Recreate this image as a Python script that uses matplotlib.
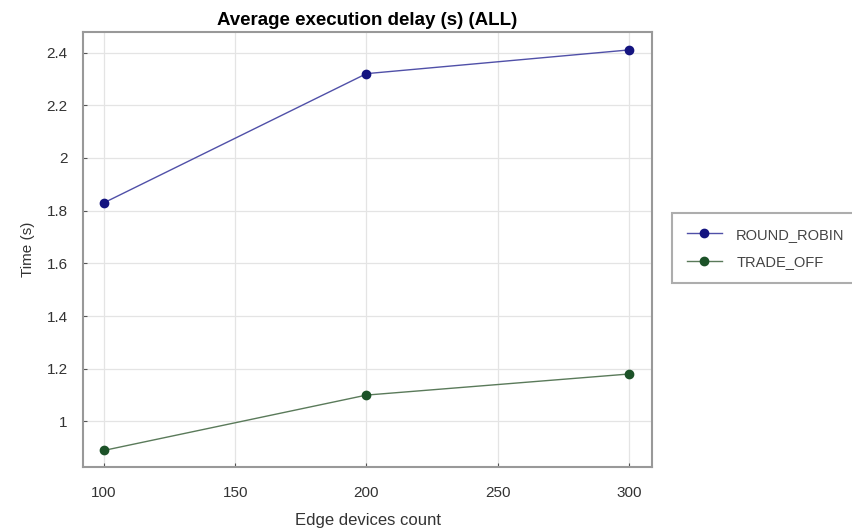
import matplotlib.pyplot as plt

plt.rcParams['font.family'] = ['Liberation Sans', 'DejaVu Sans']

devices = [100, 200, 300]
round_robin = [1.83, 2.32, 2.41]
trade_off = [0.89, 1.10, 1.18]

fig = plt.figure(figsize=(8.53, 5.31), dpi=100)
ax = fig.add_axes([0.0973, 0.1205, 0.6671, 0.8192])

ax.plot(devices, round_robin, '-o', color='#5050a8', lw=1.0,
        markerfacecolor='#141480', markeredgecolor='#141480', markersize=6,
        label='ROUND_ROBIN')
ax.plot(devices, trade_off, '-o', color='#5a7a5a', lw=1.0,
        markerfacecolor='#1c5228', markeredgecolor='#1c5228', markersize=6,
        label='TRADE_OFF')

ax.set_xlim(92, 308.8)
ax.set_ylim(0.827, 2.478)
ax.set_xticks([100, 150, 200, 250, 300])
ax.set_yticks([1, 1.2, 1.4, 1.6, 1.8, 2, 2.2, 2.4])
ax.set_yticklabels(['1', '1.2', '1.4', '1.6', '1.8', '2', '2.2', '2.4'])
ax.tick_params(direction='in', length=3, labelsize=11, colors='#555555',
               labelcolor='#333333')
ax.tick_params(axis='x', pad=14)
ax.tick_params(axis='y', pad=11)
ax.grid(True, color='#e4e4e4', lw=0.9)
ax.set_axisbelow(True)
for s in ax.spines.values():
    s.set_color('#999999')
    s.set_linewidth(1.5)

ax.set_title('Average execution delay (s) (ALL)', fontsize=13.5,
             fontweight='bold', pad=5)
ax.set_xlabel('Edge devices count', fontsize=12, color='#333333', labelpad=9)
ax.set_ylabel('Time (s)', fontsize=11, color='#333333', labelpad=8)

leg = fig.legend(loc='upper left', bbox_to_anchor=(672 / 853, 1 - 213 / 531),
                 frameon=True, fancybox=False, fontsize=10.5, edgecolor='#999999',
                 borderpad=1.0, labelspacing=0.9, handlelength=2.4,
                 handletextpad=1.0, borderaxespad=0)
leg.get_frame().set_linewidth(1.5)
for t in leg.get_texts():
    t.set_color('#444444')

fig.savefig('out.png', dpi=100)
